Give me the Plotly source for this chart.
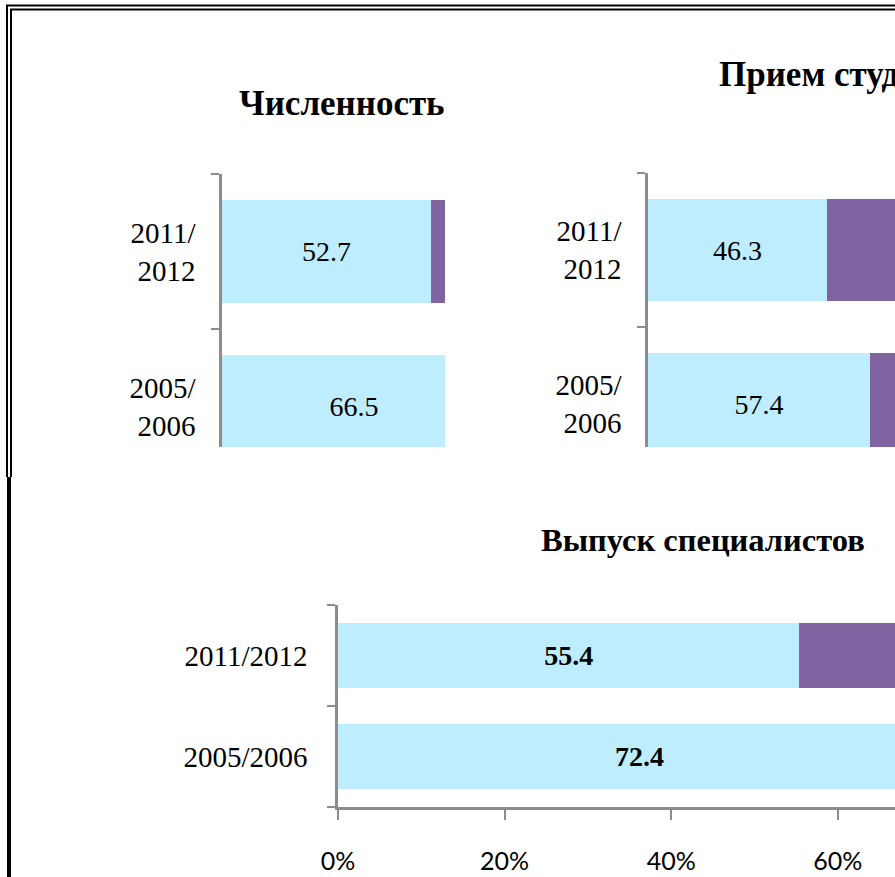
import plotly.graph_objects as go

W, H = 895, 877

# ---------------- data ----------------
years = ["2005/2006", "2011/2012"]
years_wrapped = ["2005/<br>2006", "2011/<br>2012"]

titles = ["Численность", "Прием студентов", "Выпуск специалистов"]

chislennost_state = [66.5, 52.7]
chislennost_other = [33.5, 47.3]

priem_state = [57.4, 46.3]
priem_other = [42.6, 53.7]

vypusk_state = [72.4, 55.4]
vypusk_other = [27.6, 44.6]

pct_ticks = [0, 20, 40, 60, 80, 100]
pct_labels = ["0%", "20%", "40%", "60%", "80%", "100%"]

# ---------------- style ----------------
BLUE = "#BDEDFE"
PURPLE = "#8064A2"
AXIS = "#8C8C8C"
SERIF = "Liberation Serif"


def px_x(p):
    return p / W


def px_y(p):
    return 1 - p / H


fig = go.Figure()


def add_pair(state, other, ycats, xa, ya, width, bold=False):
    fig.add_trace(go.Bar(
        x=state, y=ycats, orientation="h", xaxis=xa, yaxis=ya,
        marker=dict(color=BLUE, line=dict(width=0)),
        width=width,
        text=[f"{v}" for v in state], textposition="inside",
        insidetextanchor="middle",
        textfont=dict(family=SERIF, size=28, color="black",
                      weight="bold" if bold else "normal"),
        constraintext="none", cliponaxis=True,
        showlegend=False, hoverinfo="skip",
    ))
    fig.add_trace(go.Bar(
        x=other, y=ycats, orientation="h", xaxis=xa, yaxis=ya,
        marker=dict(color=PURPLE, line=dict(width=0)),
        width=width, showlegend=False, hoverinfo="skip",
    ))


add_pair(chislennost_state, chislennost_other, years_wrapped, "x", "y", 0.665)
add_pair(priem_state, priem_other, years_wrapped, "x2", "y2", 0.665)
add_pair(vypusk_state, vypusk_other, years, "x3", "y3", 0.653, bold=True)

yaxis_common = dict(
    type="category", showline=True, linecolor=AXIS, linewidth=2.5,
    ticks="outside", tickson="boundaries", ticklen=8, tickwidth=2,
    tickcolor=AXIS, showgrid=False, zeroline=False, fixedrange=True,
    tickfont=dict(family=SERIF, size=29, color="black"),
    ticklabelstandoff=18, automargin=False,
)

fig.update_layout(
    width=W, height=H,
    margin=dict(l=0, r=0, t=0, b=0, pad=0),
    paper_bgcolor="white", plot_bgcolor="white",
    barmode="stack", showlegend=False,
    xaxis=dict(domain=[px_x(222), px_x(445)], range=[0, 223 / 397 * 100],
               visible=False, anchor="y", automargin=False),
    yaxis=dict(domain=[px_y(447), px_y(174)], range=[-0.261, 1.5],
               anchor="x", categoryorder="array",
               categoryarray=years_wrapped, **yaxis_common),
    xaxis2=dict(domain=[px_x(648), 1], range=[0, 247 / 387 * 100],
                visible=False, anchor="y2", automargin=False),
    yaxis2=dict(domain=[px_y(447), px_y(173)], range=[-0.279, 1.5],
                anchor="x2", categoryorder="array",
                categoryarray=years_wrapped, **yaxis_common),
    xaxis3=dict(domain=[px_x(338), 1], range=[0, 557 / 833 * 100],
                anchor="y3", showline=True, linecolor=AXIS, linewidth=2.5,
                ticks="outside", ticklen=10, tickwidth=2, tickcolor=AXIS,
                tickmode="array", tickvals=pct_ticks, ticktext=pct_labels,
                tickfont=dict(family="Lato", size=25, color="black"),
                ticklabelstandoff=20, automargin=False,
                showgrid=False, zeroline=False, fixedrange=True),
    yaxis3=dict(domain=[px_y(807), px_y(605)], range=[-0.5, 1.5],
                anchor="x3", categoryorder="array",
                categoryarray=years, **{**yaxis_common,
                                        "ticklabelstandoff": 22}),
)

# titles
fig.add_annotation(text=f"<b>{titles[0]}</b>", xref="paper", yref="paper",
                   x=px_x(237), y=px_y(103), xanchor="left", yanchor="middle",
                   showarrow=False, font=dict(family=SERIF, size=35, color="black"))
fig.add_annotation(text=f"<b>{titles[1]}</b>", xref="paper", yref="paper",
                   x=px_x(717), y=px_y(75), xanchor="left", yanchor="middle",
                   showarrow=False, font=dict(family=SERIF, size=35, color="black"))
fig.add_annotation(text=f"<b>{titles[2]}</b>", xref="paper", yref="paper",
                   x=px_x(703), y=px_y(540), xanchor="center", yanchor="middle",
                   showarrow=False, font=dict(family=SERIF, size=32.5, color="black"))

# frame lines
def line(x0, y0, x1, y1, w):
    fig.add_shape(type="line", xref="paper", yref="paper",
                  x0=px_x(x0), y0=px_y(y0), x1=px_x(x1), y1=px_y(y1),
                  line=dict(color="black", width=w))

line(7, 5, 7, 477, 2)
line(11, 9, 11, 477, 2)
line(6, 5.5, 900, 5.5, 2)
line(10, 9.5, 900, 9.5, 2)
line(9, 477, 9, 880, 4)

fig.write_html("out.html")
